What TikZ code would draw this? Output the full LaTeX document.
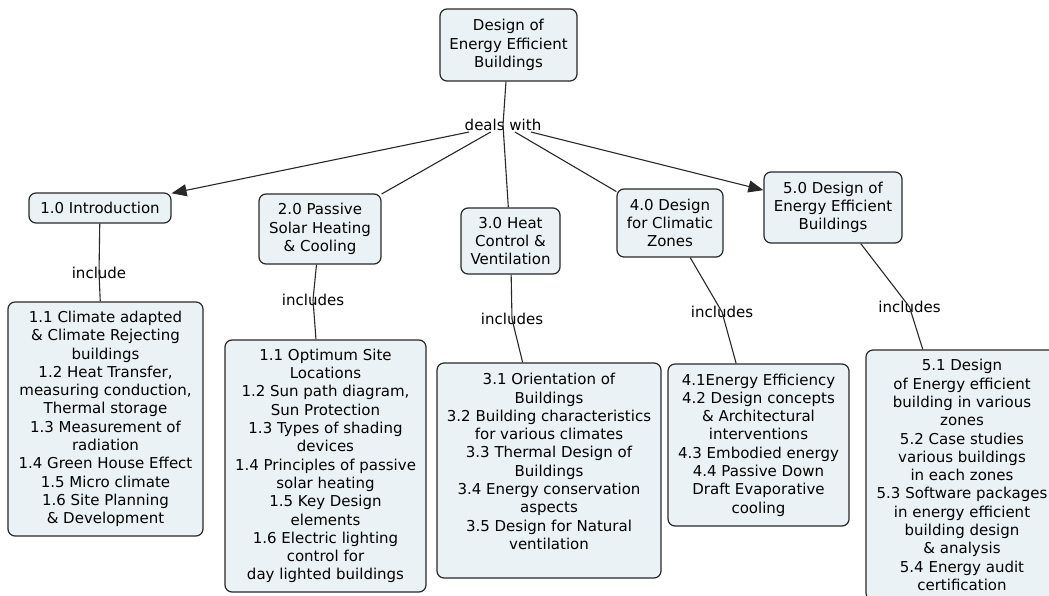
\documentclass[tikz,border=0pt]{standalone}
\usepackage{fontspec}
\setmainfont{DejaVu Sans}
\usetikzlibrary{arrows.meta}
\definecolor{conceptfill}{RGB}{235,242,245}
\definecolor{conceptline}{RGB}{40,40,40}
\begin{document}
\begin{tikzpicture}[x=1pt,y=-1pt,
  concept/.style={draw=conceptline,fill=conceptfill,line width=1.2pt,rounded corners=7pt,
    align=center,inner sep=3pt,font=\fontsize{15}{18.3}\selectfont},
  linkword/.style={inner sep=1pt,font=\fontsize{15}{18.3}\selectfont},
  link/.style={line width=1.1pt,draw=conceptline},
  arr/.style={link,-{Triangle[length=15pt,width=12pt]}}]
\useasboundingbox (0,0) rectangle (1049,595);
\clip (0,0) rectangle (1049,595);
% top concept and its linking phrase
\node[concept,minimum width=137pt,minimum height=72pt] (root) at (508.5,45) {Design of\\Energy Efficient\\Buildings};
\node[linkword] (deals) at (503,125) {deals with};
% units
\node[concept,minimum width=142pt,minimum height=30pt] (intro) at (100,208) {1.0 Introduction};
\node[concept,minimum width=122pt,minimum height=70pt] (passive) at (320,229) {2.0 Passive\\Solar Heating\\\& Cooling};
\node[concept,minimum width=99pt,minimum height=66pt] (heat) at (510.5,241) {3.0 Heat\\Control \&\\Ventilation};
\node[concept,minimum width=106pt,minimum height=68pt] (climatic) at (670,223) {4.0 Design\\for Climatic\\Zones};
\node[concept,minimum width=138pt,minimum height=71pt] (efficient) at (833,207.5) {5.0 Design of\\Energy Efficient\\Buildings};
% linking words
\node[linkword] (include1) at (99,273) {include};
\node[linkword] (includes2) at (313,300) {includes};
\node[linkword] (includes3) at (512,319) {includes};
\node[linkword] (includes4) at (722,312) {includes};
\node[linkword] (includes5) at (909.5,307) {includes};
% topics
\node[concept,minimum width=195pt,minimum height=234pt] (topics1) at (105.5,419) {1.1 Climate adapted\\\& Climate Rejecting\\buildings\\1.2 Heat Transfer,\\measuring conduction,\\Thermal storage\\1.3 Measurement of\\radiation\\1.4 Green House Effect\\1.5 Micro climate\\1.6 Site Planning\\\& Development};
\node[concept,minimum width=201pt,minimum height=252pt] (topics2) at (325.5,466) {1.1 Optimum Site\\Locations\\1.2 Sun path diagram,\\Sun Protection\\1.3 Types of shading\\devices\\1.4 Principles of passive\\solar heating\\1.5 Key Design\\elements\\1.6 Electric lighting\\control for\\day lighted buildings};
\node[concept,minimum width=224pt,minimum height=215pt] (topics3) at (549,470.5) {3.1 Orientation of\\Buildings\\3.2 Building characteristics\\for various climates\\3.3 Thermal Design of\\Buildings\\3.4 Energy conservation\\aspects\\3.5 Design for Natural\\ventilation\\\mbox{}};
\node[concept,minimum width=181pt,minimum height=162pt] (topics4) at (758.5,445) {4.1Energy Efficiency\\4.2 Design concepts\\\& Architectural\\interventions\\4.3 Embodied energy\\4.4 Passive Down\\Draft Evaporative\\cooling};
\node[concept,minimum width=192pt,minimum height=250pt] (topics5) at (962,475) {5.1 Design\\of Energy efficient\\building in various\\zones\\5.2 Case studies\\various buildings\\in each zones\\5.3 Software packages\\in energy efficient\\building design\\\& analysis\\5.4 Energy audit\\certification};
% connectors
\draw[link] (root) -- (deals.center) -- (heat);
\draw[arr] (deals) -- (intro);
\draw[link] (deals) -- (passive);
\draw[link] (deals) -- (climatic);
\draw[arr] (deals) -- (efficient);
\draw[link] (intro) -- (include1.center) -- (topics1);
\draw[link] (passive) -- (includes2.center) -- (topics2);
\draw[link] (heat) -- (includes3.center) -- (topics3);
\draw[link] (climatic) -- (includes4.center) -- (topics4);
\draw[link] (efficient) -- (includes5.center) -- (topics5);
\end{tikzpicture}
\end{document}
